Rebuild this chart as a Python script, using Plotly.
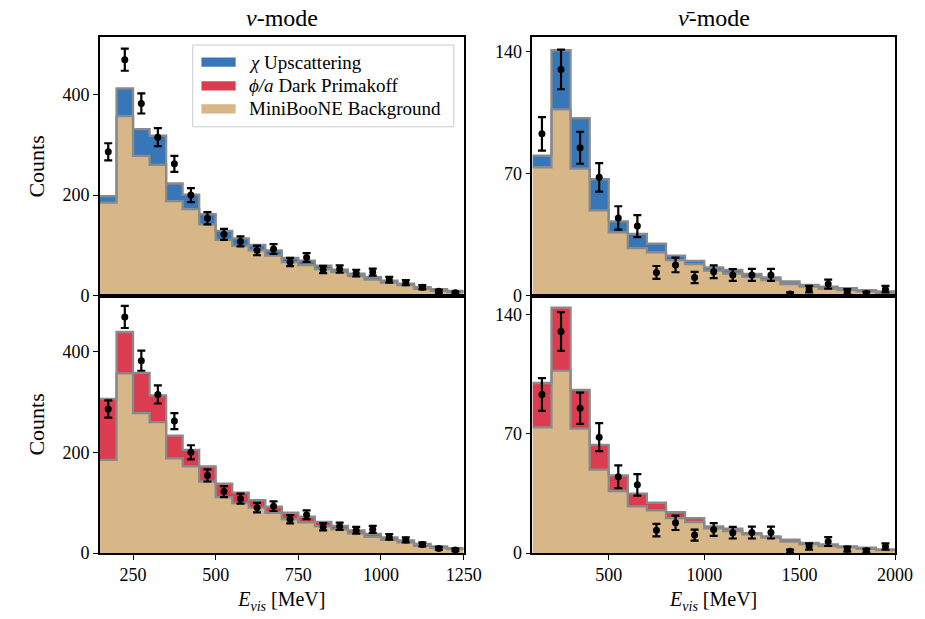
import plotly.graph_objects as go
from plotly.subplots import make_subplots

# ---------------- data ----------------
nu_edges = [150 + 50 * i for i in range(23)]          # 150 .. 1250 MeV
nu_centers = [175 + 50 * i for i in range(22)]
nubar_edges = [100 + 100 * i for i in range(20)]      # 100 .. 2000 MeV
nubar_centers = [150 + 100 * i for i in range(19)]

nu_background = [185, 357, 278, 260, 188, 172, 142, 111, 99, 90, 80, 67, 61, 53, 47, 39, 32, 26, 21, 14, 10, 7.5]
nu_bg_plus_upscatter = [198, 412, 331, 318, 223, 201, 162, 129, 114, 101, 90, 75, 70, 60, 52, 44, 37, 30, 24, 17, 13, 9.5]
nu_bg_plus_primakoff = [306, 439, 358, 313, 233, 205, 172, 138, 120, 105, 92, 80, 72, 62, 54, 45, 38, 31, 25, 18, 13, 9.5]
nu_data = [286, 469, 382, 315, 262, 200, 154, 122, 108, 90, 93, 67, 76, 52, 53, 45, 47, 32, 26, 17, 9, 6]
nu_err = [17, 22, 20, 18, 16, 14, 12, 11, 10, 9.5, 9.6, 8.2, 8.7, 7.2, 7.3, 6.7, 6.9, 5.7, 5.1, 4.1, 3, 2.5]

nubar_background = [73.8, 107, 73, 49, 36.4, 27.4, 25, 20.5, 18.2, 14.4, 12.8, 10.9, 9.0, 6.7, 5.2, 4.0, 3.3, 2.5, 1.7]
nubar_bg_plus_upscatter = [80.5, 141, 102, 67, 42.7, 35.5, 30, 23, 20, 16.3, 14.8, 12.5, 10.5, 8.2, 6.3, 5.2, 4.4, 3.3, 2.5]
nubar_bg_plus_primakoff = [99.8, 144, 95.8, 63.5, 45.5, 34.8, 29.5, 24, 20.5, 15.6, 14.3, 11.7, 9.8, 7.8, 5.9, 5.1, 3.9, 3.1, 2.1]
nubar_data = [93, 130, 85, 68, 44.7, 40, 13.4, 17.7, 10.5, 13.8, 11.9, 12, 12, 1, 3.8, 6.7, 2.3, 1.3, 3.8]
nubar_err = [9.6, 11.4, 9.2, 8.2, 6.7, 6.3, 3.7, 4.2, 3.2, 3.7, 3.4, 3.5, 3.5, 1.0, 1.9, 2.6, 1.5, 1.1, 1.9]

legend_labels = ["<i>χ</i> Upscattering", "<i>ϕ/a</i> Dark Primakoff", "MiniBooNE Background"]
titles = ["<i>ν</i>-mode", "<i>ν̄</i>-mode"]

# ---------------- style ----------------
BLUE = "#3777b7"
RED = "#dc3c50"
TAN = "#d7b687"
EDGE = "#8a8a8a"
FONT = "Liberation Serif"

fig = make_subplots(rows=2, cols=2, horizontal_spacing=0.0865, vertical_spacing=0.0)


def steps(vals):
    return list(vals) + [vals[-1]]


def add_panel(row, col, edges, centers, bg, total, sig_color, data, err):
    fig.add_trace(go.Scatter(x=edges, y=steps(bg), mode="lines", line_shape="hv",
                             line=dict(color=EDGE, width=2.3), fill="tozeroy",
                             fillcolor=TAN, showlegend=False, hoverinfo="skip"),
                  row=row, col=col)
    fig.add_trace(go.Scatter(x=edges, y=steps(total), mode="lines", line_shape="hv",
                             line=dict(color=EDGE, width=2.3), fill="tonexty",
                             fillcolor=sig_color, showlegend=False, hoverinfo="skip"),
                  row=row, col=col)
    fig.add_trace(go.Scatter(x=centers, y=data, mode="markers",
                             marker=dict(color="black", size=7),
                             error_y=dict(type="data", array=err, color="black",
                                          thickness=2.2, width=4),
                             showlegend=False),
                  row=row, col=col)


add_panel(1, 1, nu_edges, nu_centers, nu_background, nu_bg_plus_upscatter, BLUE, nu_data, nu_err)
add_panel(1, 2, nubar_edges, nubar_centers, nubar_background, nubar_bg_plus_upscatter, BLUE, nubar_data, nubar_err)
add_panel(2, 1, nu_edges, nu_centers, nu_background, nu_bg_plus_primakoff, RED, nu_data, nu_err)
add_panel(2, 2, nubar_edges, nubar_centers, nubar_background, nubar_bg_plus_primakoff, RED, nubar_data, nubar_err)

axis_common = dict(showline=True, linecolor="black", linewidth=1.6, mirror=True,
                   showgrid=False, zeroline=False, ticks="outside", ticklen=5,
                   tickcolor="black", tickwidth=1.2,
                   tickfont=dict(family=FONT, size=18, color="black"))

fig.update_layout(
    width=925, height=619,
    margin=dict(l=100, r=27, t=37, b=65),
    plot_bgcolor="white", paper_bgcolor="white",
    font=dict(family=FONT, color="black"),
    showlegend=False,
)

# domains
fig.update_xaxes(domain=[0, 0.4574], col=1)
fig.update_xaxes(domain=[0.5439, 1.0], col=2)
fig.update_yaxes(domain=[0.4985, 1.0], row=1)
fig.update_yaxes(domain=[0.0, 0.4985], row=2)

# x axes
fig.update_xaxes(**axis_common)
fig.update_xaxes(range=[150, 1250], tickvals=[250, 500, 750, 1000, 1250], col=1)
fig.update_xaxes(range=[100, 2000], tickvals=[500, 1000, 1500, 2000], col=2)
fig.update_xaxes(showticklabels=False, ticks="", row=1)
xtitle = dict(text="<i>E</i><sub><i>vis</i></sub> [MeV]", font=dict(family=FONT, size=20), standoff=8)
fig.update_xaxes(title=xtitle, row=2)

# y axes
fig.update_yaxes(**axis_common)
fig.update_yaxes(range=[0, 514], tickvals=[0, 200, 400], row=1, col=1)
fig.update_yaxes(range=[0, 511], tickvals=[0, 200, 400], row=2, col=1)
fig.update_yaxes(range=[0, 148.6], tickvals=[0, 70, 140], row=1, col=2)
fig.update_yaxes(range=[0, 151], tickvals=[0, 70, 140], row=2, col=2)
ytitle = dict(text="Counts", font=dict(family=FONT, size=22), standoff=12)
fig.update_yaxes(title=ytitle, col=1)

# column titles
for i, t in enumerate(titles):
    xd = fig.layout["xaxis%s" % ("" if i == 0 else str(i + 1))].domain
    fig.add_annotation(text=t, x=(xd[0] + xd[1]) / 2, y=1.0, xref="paper", yref="paper",
                       xanchor="center", yanchor="bottom", yshift=4, showarrow=False,
                       font=dict(family=FONT, size=24, color="black"))

# manual legend in the top-left panel
fig.add_shape(type="rect", xref="x domain", yref="y domain", x0=0.255, x1=0.973,
              y0=0.653, y1=0.969, line=dict(color="#cccccc", width=1),
              fillcolor="rgba(255,255,255,0.85)", layer="above")
legend_colors = [BLUE, RED, TAN]
row_y = [0.903, 0.811, 0.722]
for lab, c, yy in zip(legend_labels, legend_colors, row_y):
    fig.add_shape(type="rect", xref="x domain", yref="y domain", x0=0.279, x1=0.373,
                  y0=yy - 0.018, y1=yy + 0.018, line=dict(width=0), fillcolor=c, layer="above")
    fig.add_annotation(text=lab, xref="x domain", yref="y domain", x=0.405, y=yy,
                       xanchor="left", yanchor="middle", showarrow=False,
                       font=dict(family=FONT, size=19, color="black"))

fig.write_html("out.html")
